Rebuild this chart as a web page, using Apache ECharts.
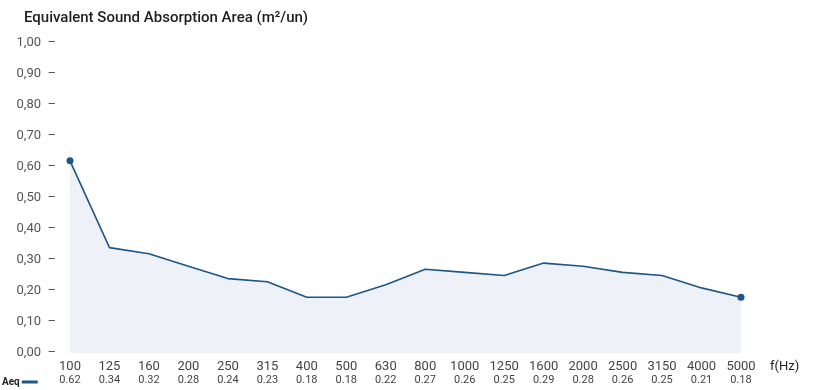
<!DOCTYPE html>
<html>
<head>
<meta charset="utf-8">
<script src="https://cdn.jsdelivr.net/npm/echarts@6/dist/echarts.min.js"></script>
<style>
  html, body { margin: 0; padding: 0; background: #fff; }
  #chart { width: 814px; height: 390px; }
</style>
</head>
<body>
<div id="chart"></div>
<script>
var frequencies = ['100', '125', '160', '200', '250', '315', '400', '500', '630', '800',
  '1000', '1250', '1600', '2000', '2500', '3150', '4000', '5000'];
var aeqValues = [0.62, 0.34, 0.32, 0.28, 0.24, 0.23, 0.18, 0.18, 0.22, 0.27,
  0.26, 0.25, 0.29, 0.28, 0.26, 0.25, 0.21, 0.18];

var chartDom = document.getElementById('chart');
var myChart = echarts.init(chartDom);
var option;

option = {
  animation: false,
  textStyle: { fontFamily: 'Roboto' },
  title: {
    text: 'Equivalent Sound Absorption Area (m\u00b2/un)',
    left: 19,
    top: 6,
    textStyle: { fontSize: 15, fontWeight: 500, color: '#1e1e1e' }
  },
  legend: {
    data: ['Aeq'],
    left: 2,
    top: 377,
    padding: 0,
    align: 'right',
    itemWidth: 16,
    itemHeight: 3,
    itemGap: 2,
    icon: 'rect',
    textStyle: { fontSize: 10, fontWeight: 'bold', color: '#222', padding: [0, -3, 0, 0] }
  },
  grid: { left: 70, right: 73, top: 43, bottom: 37, containLabel: false },
  xAxis: {
    type: 'category',
    data: frequencies,
    boundaryGap: false,
    name: 'f(Hz)',
    nameLocation: 'end',
    nameGap: 29,
    nameTextStyle: { fontSize: 13, color: '#222', align: 'left', verticalAlign: 'top', padding: [7, 0, 0, 0] },
    axisLine: { show: false },
    axisTick: { show: false },
    axisLabel: {
      margin: 6,
      interval: 0,
      formatter: function (v, i) {
        return '{a|' + v + '}\n{b|' + aeqValues[i].toFixed(2) + '}';
      },
      rich: {
        a: { fontSize: 13, color: '#444', lineHeight: 15 },
        b: { fontSize: 11, color: '#444', lineHeight: 13 }
      }
    },
    splitLine: { show: false }
  },
  yAxis: {
    type: 'value',
    min: 0,
    max: 1,
    interval: 0.1,
    axisLine: { show: false },
    axisTick: { show: false },
    splitLine: { show: false },
    axisLabel: {
      margin: 14,
      fontSize: 13,
      color: '#555',
      formatter: function (v) {
        return v.toFixed(2).replace('.', ',') + '  \u2013';
      }
    }
  },
  series: [
    {
      name: 'Aeq',
      type: 'line',
      data: aeqValues,
      color: '#1d5687',
      lineStyle: { width: 1.6, color: '#1d5687' },
      areaStyle: { color: '#eef1f7', opacity: 1 },
      symbol: 'circle',
      symbolSize: function (val, params) {
        return (params.dataIndex === 0 || params.dataIndex === aeqValues.length - 1) ? 7 : 0;
      },
      itemStyle: { color: '#1d5687' }
    }
  ]
};

option && myChart.setOption(option);
</script>
</body>
</html>
